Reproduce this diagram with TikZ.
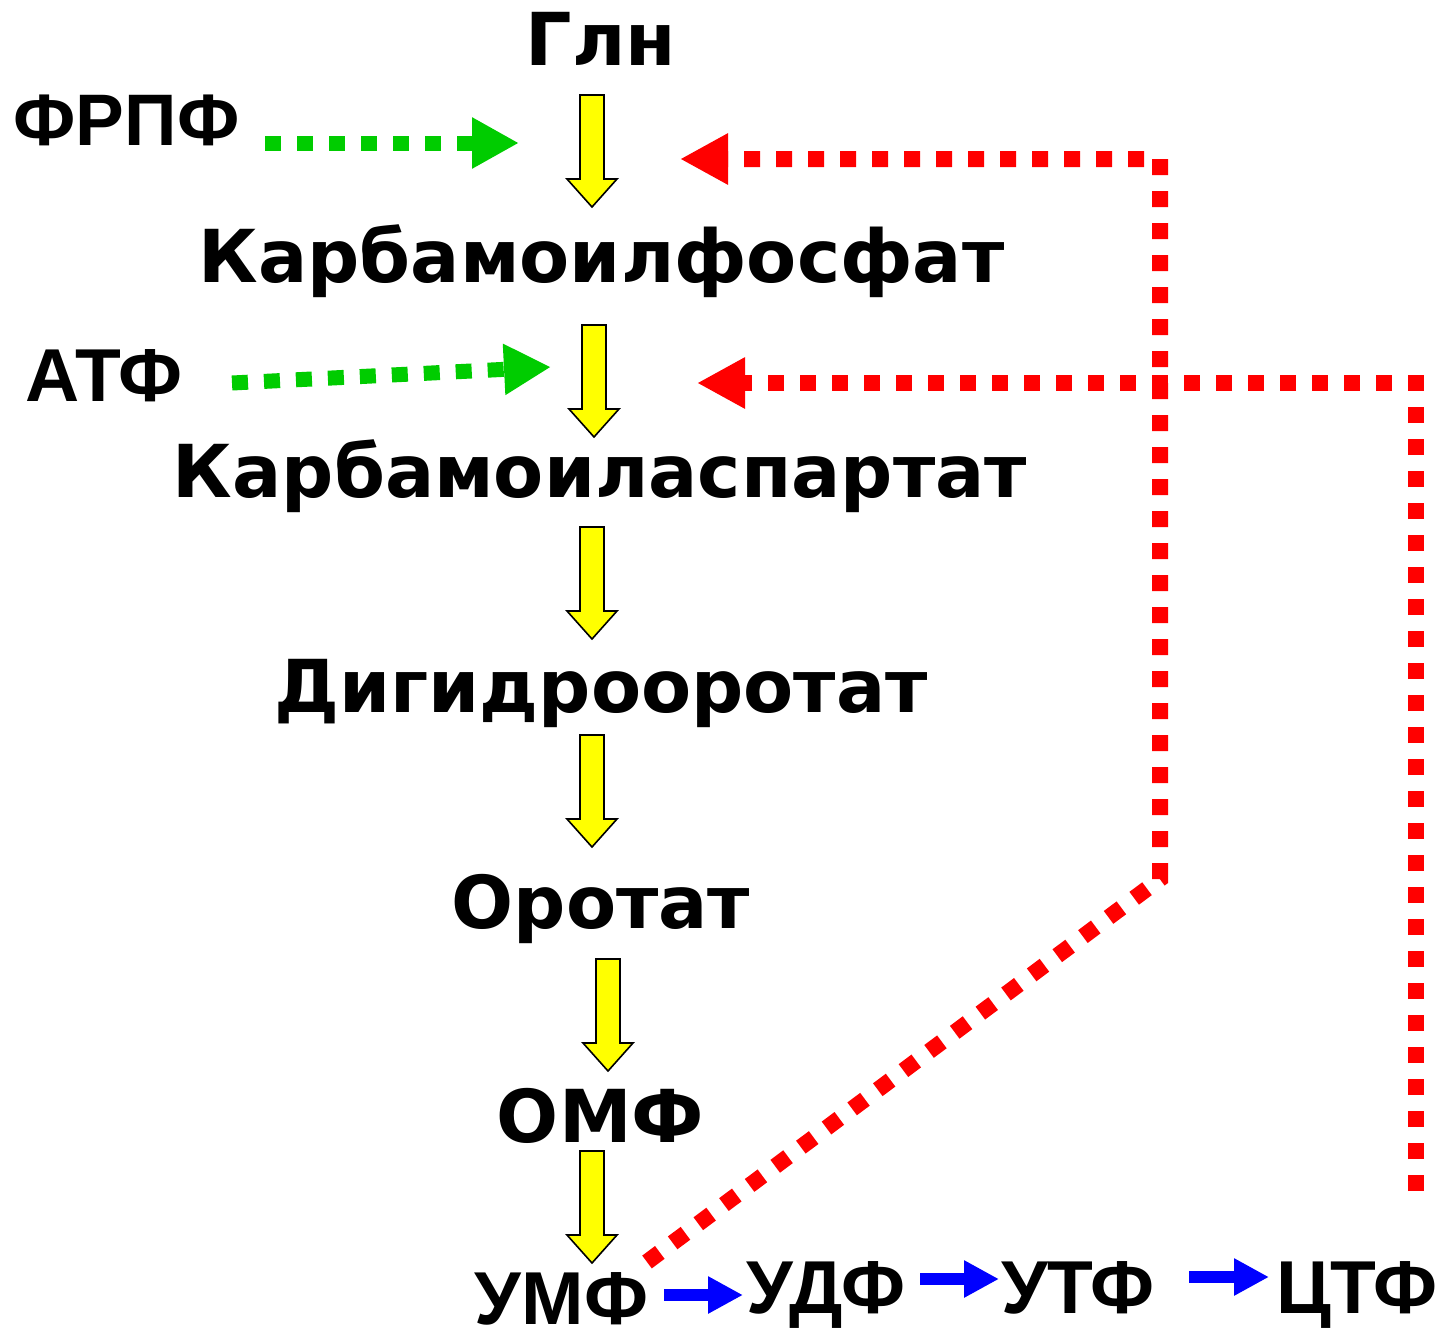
\documentclass[tikz,border=0pt]{standalone}
\usepackage{fontspec}
\usetikzlibrary{arrows.meta}
\newfontfamily\dvsans{DejaVu Sans}
\newfontfamily\libsans{Liberation Sans}
\definecolor{stepyellow}{RGB}{255,255,0}
\definecolor{feedgreen}{RGB}{0,204,0}
\definecolor{inhibred}{RGB}{255,0,0}
\definecolor{convblue}{RGB}{0,0,255}

\tikzset{
  compound/.style={inner sep=0pt, anchor=base,
    font=\dvsans\bfseries\fontsize{73}{78}\selectfont},
  cofactor/.style={inner sep=0pt, anchor=base,
    font=\libsans\bfseries\fontsize{75}{80}\selectfont},
  % yellow block arrow of one pathway step, drawn from its top centre
  stepdown/.pic={
    \draw[fill=stepyellow, line width=1.6pt, line join=miter]
      (-12,0) -- (-12,84) -- (-25,84) -- (0,112) -- (25,84) -- (12,84) -- (12,0) -- cycle;
  },
  activator/.style={feedgreen, line width=15pt, dash pattern=on 16pt off 16pt,
    -{Triangle[length=47pt 0 0, width=48pt 0 0]}},
  inhibitor/.style={inhibred, line width=16pt, dash pattern=on 16pt off 16pt,
    -{Triangle[length=48pt 0 0, width=48pt 0 0]}},
  conversion/.style={convblue, line width=12pt,
    -{Triangle[length=35pt 0 0, width=35pt 0 0]}},
}

\begin{document}
\begin{tikzpicture}[x=1pt, y=-1pt]
\useasboundingbox[fill=white] (0,0) rectangle (1441,1333);

% pathway intermediates
\node[compound] (gln)  at (601,65)    {Глн};
\node[compound] (cp)   at (601.5,282) {Карбамоилфосфат};
\node[compound] (ca)   at (600,497)   {Карбамоиласпартат};
\node[compound] (dho)  at (601,712)   {Дигидрооротат};
\node[compound] (oro)  at (601,928)   {Оротат};
\node[compound] (omp)  at (600.5,1142){ОМФ};
\node[cofactor] (ump)  at (561.5,1324){УМФ};
\node[cofactor] (udp)  at (826,1313)  {УДФ};
\node[cofactor] (utp)  at (1078,1313) {УТФ};
\node[cofactor] (ctp)  at (1357,1313) {ЦТФ};

% effectors
\node[cofactor, font=\libsans\bfseries\fontsize{73}{78}\selectfont] (prpp) at (126.5,145) {ФРПФ};
\node[cofactor] (atp)  at (104,401)   {АТФ};

% pathway steps
\pic (s1) at (592,95)   {stepdown};
\pic (s2) at (594,325)  {stepdown};
\pic (s3) at (592,527)  {stepdown};
\pic (s4) at (592,735)  {stepdown};
\pic (s5) at (608,959)  {stepdown};
\pic (s6) at (592,1151) {stepdown};

% activation by PRPP and ATP
\coordinate (prpp-out) at (265,143);
\coordinate (step1-act) at (519,143);
\coordinate (atp-out) at (232,383);
\coordinate (step2-act) at (551,367);
\draw[activator] (prpp-out) -- (step1-act);
\draw[activator] (atp-out) -- (step2-act);

% feedback inhibition (segment lengths keep the dashes clear of the corners)
\coordinate (ump-fb) at (647,1262);
\coordinate (fb1-bend) at (1160,879);
\coordinate (fb1-top) at (1160,159);
\coordinate (step1-inh) at (680,159);
\draw[inhibitor] (ump-fb) -- (fb1-bend) -- (fb1-top) -- (step1-inh);

\coordinate (ctp-fb) at (1416,1191);
\coordinate (fb2-top) at (1416,383);
\coordinate (step2-inh) at (697,383);
\draw[inhibitor] (ctp-fb) -- (fb2-top) -- (step2-inh);

% phosphorylation chain
\coordinate (ump-r) at (664,1295);
\coordinate (udp-l) at (743,1295);
\coordinate (udp-r) at (920,1279);
\coordinate (utp-l) at (999,1279);
\coordinate (utp-r) at (1189,1277);
\coordinate (ctp-l) at (1269,1277);
\draw[conversion] (ump-r) -- (udp-l);
\draw[conversion] (udp-r) -- (utp-l);
\draw[conversion] (utp-r) -- (ctp-l);
\end{tikzpicture}
\end{document}
